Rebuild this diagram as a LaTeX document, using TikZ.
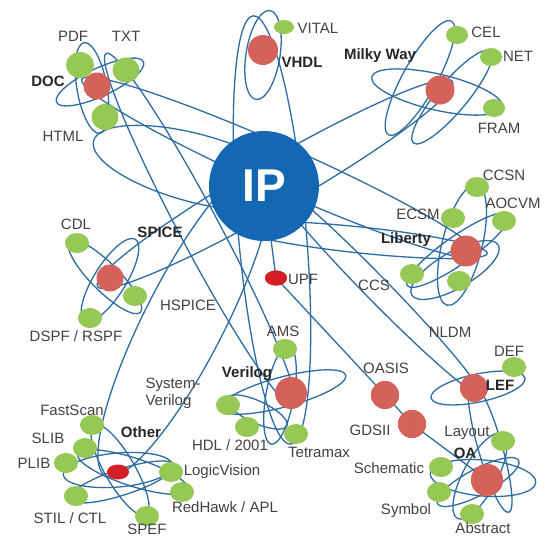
\documentclass[tikz,border=0pt]{standalone}
\usepackage{fontspec}
\setmainfont{Liberation Sans}
\usetikzlibrary{shapes.geometric}
\definecolor{lineblue}{HTML}{2E6CA2}
\definecolor{ipblue}{HTML}{1467B3}
\definecolor{gr}{HTML}{96C855}
\definecolor{rd}{HTML}{D4625B}
\definecolor{brd}{HTML}{D41F26}
\definecolor{txt}{HTML}{424242}
\newcommand\orb[5]{\draw[orbit,rotate around={#4:(#1,#2)}] (#1,#2) ellipse ({#3 pt} and {#5 pt});}
\tikzset{
  orbit/.style={draw=lineblue, line width=1.3pt},
  gn/.style={ellipse, fill=gr, minimum width=24pt, minimum height=20pt, inner sep=0pt},
  rn/.style={circle, fill=rd, minimum size=28pt, inner sep=0pt},
  bn/.style={ellipse, fill=brd, minimum width=22pt, minimum height=15pt, inner sep=0pt},
  lbl/.style={text=txt, font=\fontsize{15}{17}\selectfont, inner sep=0pt},
  blbl/.style={text=black!85, font=\fontsize{15}{17}\selectfont\bfseries, inner sep=0pt},
}
\begin{document}
\begin{tikzpicture}[x=1pt,y=-1pt]
\useasboundingbox[fill=white] (0,0) rectangle (548,539);
% ---------- big loops through IP ----------
\orb{281}{168}{218}{-24}{22}   % DOC - Liberty
\orb{195}{168}{105}{-15}{34}   % DOC - IP lower
\orb{200}{230}{200}{-62}{20}   % DOC - Verilog
\orb{272}{230}{215}{-85}{34}   % VHDL - Verilog
\orb{185}{320}{175}{63}{40}    % Other - IP
\orb{275}{184}{205}{30}{24}    % Milky Way - SPICE
\orb{360}{240}{128}{-6}{13}    % Liberty - IP
\orb{375}{287}{150}{-45.6}{12} % IP - LEF
\orb{490}{447}{68}{-74}{12}    % LEF - OA
% ---------- small orbits ----------
% DOC
\orb{100}{82}{48}{25}{14}
\orb{92}{88}{46}{100}{15}
% VHDL
\orb{263}{55}{45}{81}{17}
% Milky Way
\orb{437}{92}{67}{-13}{18}
\orb{420}{78}{65}{61}{17}
\orb{452}{97}{60}{50}{15}
% Liberty
\orb{462}{245}{62}{76}{20}
\orb{458}{250}{62}{35}{14}
\orb{455}{270}{50}{30}{18}
% SPICE
\orb{105}{277}{50}{-45}{14}
\orb{110}{280}{48}{58}{16}
% Verilog
\orb{283}{392}{65}{15}{15}
\orb{280}{395}{50}{80}{14}
\orb{257}{412}{33}{-25}{11}
% LEF
\orb{478}{388}{48}{12}{14}
% OA
\orb{483}{478}{53}{-5}{18}
\orb{480}{476}{48}{62}{17}
\orb{478}{482}{46}{28}{13}
% Other
\orb{118}{470}{55}{5}{17}
\orb{133}{472}{58}{-18}{14}
\orb{120}{470}{52}{-60}{15}
\orb{122}{482}{55}{18}{13}
% ---------- nodes ----------
% DOC
\node[gn,minimum width=28pt,minimum height=26pt] (pdf) at (80,65) {};
\node[gn,minimum width=27pt,minimum height=25pt] (txtn) at (126,70) {};
\node[gn,minimum width=27pt,minimum height=26pt] (html) at (105,117) {};
\node[rn,minimum size=27pt] (doc) at (97,86) {};
% VHDL
\node[gn,minimum width=20pt,minimum height=14pt] (vital) at (284,27) {};
\node[rn,minimum size=30pt] (vhdl) at (263,50) {};
% Milky Way
\node[gn,minimum width=22pt,minimum height=18pt] (cel) at (457,35) {};
\node[gn,minimum width=22pt,minimum height=18pt] (net) at (491,57) {};
\node[gn,minimum width=22pt,minimum height=18pt] (fram) at (494,108) {};
\node[rn,minimum size=29pt] (milky) at (440,90) {};
% Liberty
\node[gn] (ccsn) at (477,187) {};
\node[gn] (ecsm) at (453,218) {};
\node[gn] (aocvm) at (504,221) {};
\node[gn] (ccs) at (412,274) {};
\node[gn] (nldmg) at (459,281) {};
\node[rn,minimum size=31pt] (liberty) at (466,251) {};
% SPICE
\node[gn] (cdl) at (77,243) {};
\node[gn] (hspice) at (135,296) {};
\node[gn] (dspf) at (90,318) {};
\node[rn,minimum size=27pt] (spice) at (110,278) {};
% Verilog
\node[gn] (ams) at (285,349) {};
\node[gn] (sysv) at (228,405) {};
\node[gn] (hdl) at (247,427) {};
\node[gn] (tetra) at (296,434) {};
\node[rn,minimum size=32pt] (verilog) at (291,393) {};
% LEF
\node[gn] (def) at (514,367) {};
% OA
\node[gn] (layout) at (503,441) {};
\node[gn] (schem) at (441,467) {};
\node[gn] (symbol) at (439,492) {};
\node[gn] (abstract) at (472,514) {};
% Other
\node[gn] (fastscan) at (92,425) {};
\node[gn] (slib) at (85,448) {};
\node[gn] (plib) at (66,463) {};
\node[gn] (logicv) at (171,472) {};
\node[gn] (redhawk) at (182,492) {};
\node[gn] (stil) at (76,496) {};
\node[gn] (spef) at (147,516) {};
\node[bn] (other) at (118,472) {};
% IP chain
\node[circle,minimum size=110pt,inner sep=0pt] (ip) at (264,186) {};
\node[bn] (upf) at (276,278) {};
\node[rn] (oasis) at (385,395) {};
\node[rn] (gdsii) at (412,424) {};
\node[rn] (lef) at (474,388) {};
\node[rn,minimum size=32pt] (oa) at (487,480) {};
\draw[orbit] (ip.center) -- (upf.center) -- (oasis.center) -- (gdsii.center) -- (oa.center);
\node[bn] (upff) at (upf) {};
\node[rn] (oasisf) at (oasis) {};
\node[rn] (gdsiif) at (gdsii) {};
\node[rn,minimum size=32pt] (oaf) at (oa) {};
\node[circle,fill=ipblue,minimum size=110pt,inner sep=0pt] (ipfront) at (ip) {};
\node[text=white,font=\fontsize{46}{46}\selectfont\bfseries] (iptext) at (ip) {IP};
% ---------- labels ----------
\node[lbl] (lpdf) at (73,36) {PDF};
\node[lbl] (ltxt) at (126,36) {TXT};
\node[blbl] (ldoc) at (48,81) {DOC};
\node[lbl] (lhtml) at (63,136) {HTML};
\node[lbl] (lvital) at (318,28) {VITAL};
\node[blbl] (lvhdl) at (302,62) {VHDL};
\node[blbl] (lmilky) at (380,56) {Milky Way};
\node[lbl] (lcel) at (486,32) {CEL};
\node[lbl] (lnet) at (518,56) {NET};
\node[lbl] (lfram) at (499,128) {FRAM};
\node[lbl] (lccsn) at (504,175) {CCSN};
\node[lbl] (laocvm) at (513,203) {AOCVM};
\node[lbl] (lecsm) at (418,214) {ECSM};
\node[blbl] (lliberty) at (406,240) {Liberty};
\node[lbl] (lccs) at (374,285) {CCS};
\node[lbl] (lcdl) at (76,224) {CDL};
\node[blbl] (lspice) at (160,232) {SPICE};
\node[lbl] (lhspice) at (188,305) {HSPICE};
\node[lbl] (ldspf) at (76,336) {DSPF / RSPF};
\node[lbl] (lupf) at (303,279) {UPF};
\node[lbl] (lams) at (283,331) {AMS};
\node[blbl] (lverilog) at (247,374) {Verilog};
\node[lbl,align=left] (lsysv) at (173,393) {System-\\Verilog};
\node[lbl] (lhdl) at (230,445) {HDL / 2001};
\node[lbl] (ltetra) at (319,452) {Tetramax};
\node[lbl] (loasis) at (386,368) {OASIS};
\node[lbl] (lgdsii) at (370,430) {GDSII};
\node[lbl] (lnldm) at (450,332) {NLDM};
\node[lbl] (ldef) at (509,351) {DEF};
\node[blbl] (llef) at (500,385) {LEF};
\node[lbl] (llayout) at (467,433) {Layout};
\node[blbl] (loa) at (465,453) {OA};
\node[lbl] (lschem) at (389,468) {Schematic};
\node[lbl] (lsymbol) at (406,511) {Symbol};
\node[lbl] (labstract) at (483,528) {Abstract};
\node[lbl] (lfastscan) at (72,410) {FastScan};
\node[lbl] (lslib) at (48,438) {SLIB};
\node[lbl] (lplib) at (34,463) {PLIB};
\node[blbl] (lother) at (141,432) {Other};
\node[lbl] (llogicv) at (222,472) {LogicVision};
\node[lbl] (lredhawk) at (225,507) {RedHawk / APL};
\node[lbl] (lstil) at (70,518) {STIL / CTL};
\node[lbl] (lspef) at (147,529) {SPEF};
\end{tikzpicture}
\end{document}
